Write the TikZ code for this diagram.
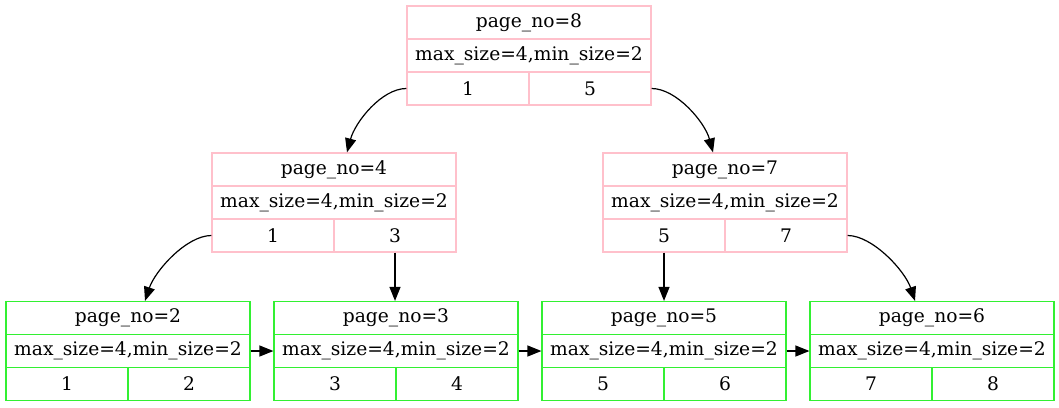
\documentclass[tikz,border=0pt]{standalone}
\usepackage{fontspec}
\setmainfont{DejaVu Serif}
\usetikzlibrary{arrows.meta}
\definecolor{inpink}{RGB}{255,192,203}
\definecolor{leafgreen}{RGB}{50,240,50}
\tikzset{
  cell/.style={draw=#1, line width=1.2pt, inner sep=0pt, minimum height=33pt,
    font=\fontsize{18.67pt}{22pt}\selectfont},
  arr/.style={line width=1.2pt, -{Triangle[length=14pt,width=11pt]}},
}
\newcommand\bprec[7]{%
  \node[cell=#4, minimum width=244pt] (#1-t) at (#2+122, #3+16.5) {page\_no=#5};
  \node[cell=#4, minimum width=244pt] (#1-m) at (#2+122, #3+49.5) {max\_size=4,min\_size=2};
  \node[cell=#4, minimum width=122pt] (#1-l) at (#2+61, #3+82.5) {#6};
  \node[cell=#4, minimum width=122pt] (#1-r) at (#2+183, #3+82.5) {#7};
}
\begin{document}
\begin{tikzpicture}[x=1pt,y=-1pt]
\useasboundingbox (0,0) rectangle (1059,407);
\bprec{r8}{407}{6}{inpink}{8}{1}{5}
\bprec{n4}{212}{153}{inpink}{4}{1}{3}
\bprec{n7}{603}{153}{inpink}{7}{5}{7}
\bprec{n2}{6}{301.5}{leafgreen}{2}{1}{2}
\bprec{n3}{274}{301.5}{leafgreen}{3}{3}{4}
\bprec{n5}{542}{301.5}{leafgreen}{5}{5}{6}
\bprec{n6}{810}{301.5}{leafgreen}{6}{7}{8}
\draw[arr] (r8-l.west) .. controls +(-25,0) and +(8,-30) .. ([xshift=13pt]n4-t.north);
\draw[arr] (r8-r.east) .. controls +(25,0) and +(-8,-30) .. ([xshift=-12pt]n7-t.north);
\draw[arr] (n4-l.west) .. controls +(-25,0) and +(10,-30) .. ([xshift=17pt]n2-t.north);
\draw[arr] (n7-r.east) .. controls +(25,0) and +(-10,-30) .. ([xshift=-17pt]n6-t.north);
\draw[arr] (n4-r.south) -- (n4-r.south |- n3-t.north);
\draw[arr] (n7-l.south) -- (n7-l.south |- n5-t.north);
\draw[arr] (n2-m.east) -- (n3-m.west);
\draw[arr] (n3-m.east) -- (n5-m.west);
\draw[arr] (n5-m.east) -- (n6-m.west);
\end{tikzpicture}
\end{document}
